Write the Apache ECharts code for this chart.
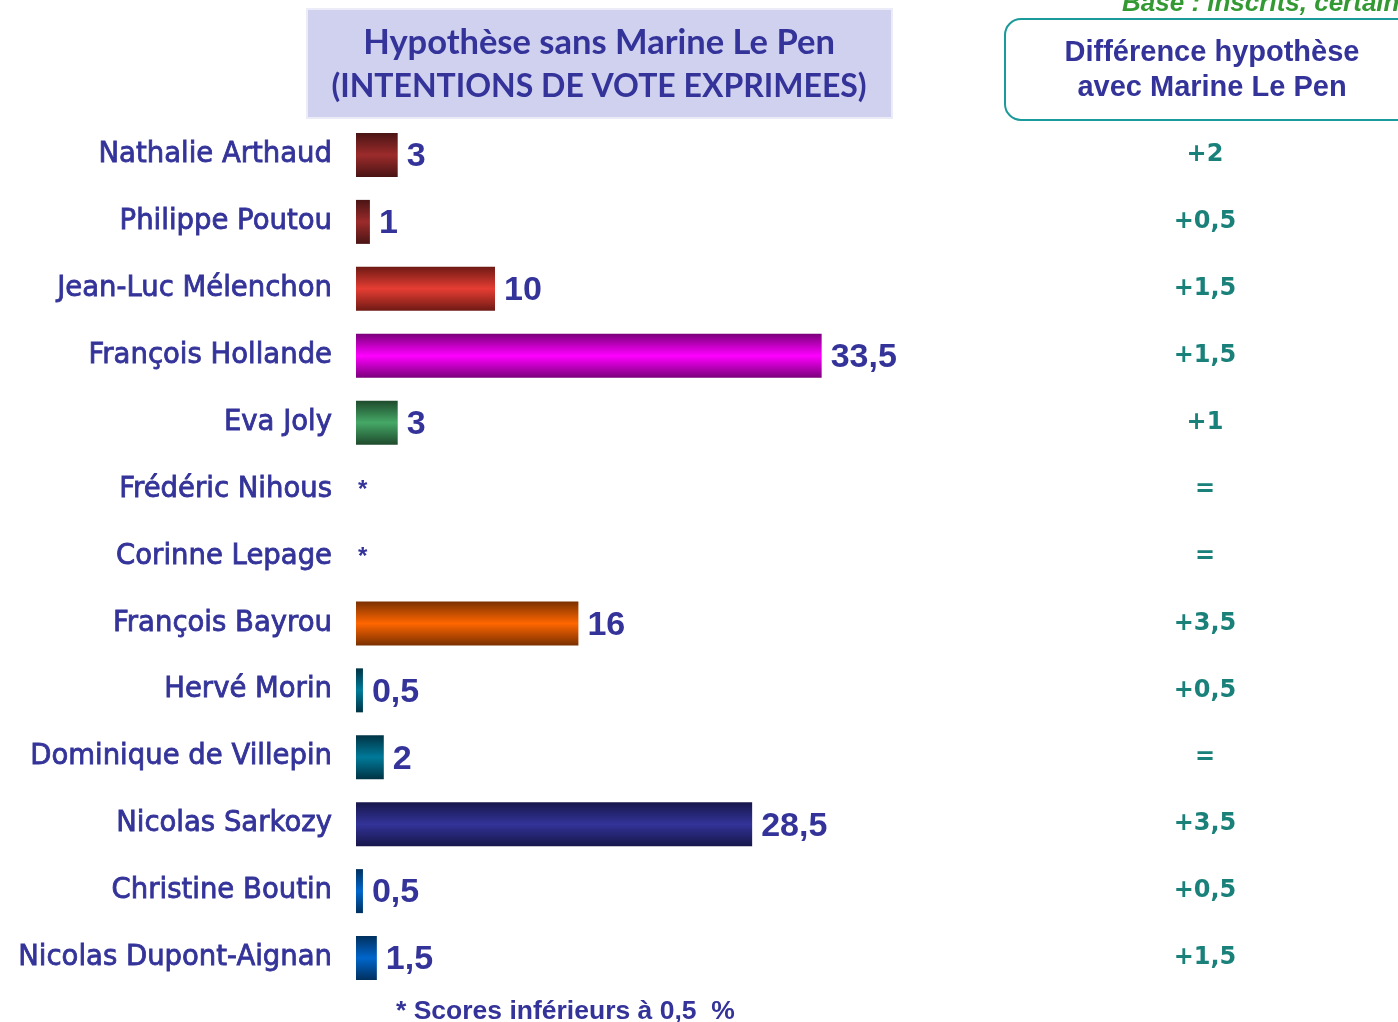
<!DOCTYPE html>
<html lang="fr">
<head>
<meta charset="UTF-8">
<title>Hypothèse sans Marine Le Pen</title>
<script src="https://cdn.jsdelivr.net/npm/echarts@6/dist/echarts.min.js"></script>
<style>
  html, body { margin: 0; padding: 0; background: #fff; }
  #main { width: 1398px; height: 1022px; }
</style>
</head>
<body>
<div id="main"></div>
<script type="text/javascript">
// candidats, de haut en bas
var candidats = ['Nathalie Arthaud', 'Philippe Poutou', 'Jean-Luc Mélenchon', 'François Hollande',
    'Eva Joly', 'Frédéric Nihous', 'Corinne Lepage', 'François Bayrou', 'Hervé Morin',
    'Dominique de Villepin', 'Nicolas Sarkozy', 'Christine Boutin', 'Nicolas Dupont-Aignan'];
// intentions de vote exprimées (0 = score inférieur à 0,5)
var scores = [3, 1, 10, 33.5, 3, 0, 0, 16, 0.5, 2, 28.5, 0.5, 1.5];
var etiquettes = ['3', '1', '10', '33,5', '3', '*', '*', '16', '0,5', '2', '28,5', '0,5', '1,5'];
// différence avec l'hypothèse Marine Le Pen
var differences = ['+2', '+0,5', '+1,5', '+1,5', '+1', '=', '=', '+3,5', '+0,5', '=', '+3,5', '+0,5', '+1,5'];

// couleurs des barres [milieu, bord]
var couleurs = [
    ['#9c2b2b', '#4a1414'], ['#9c2b2b', '#4a1414'], ['#e63d33', '#6e1a14'], ['#ff00ff', '#7a007a'],
    ['#45a866', '#1e4a2c'], ['#999999', '#555555'], ['#999999', '#555555'], ['#ff6600', '#7a3000'],
    ['#007a99', '#003344'], ['#007a99', '#003344'], ['#333399', '#16164a'], ['#0066cc', '#00305e'],
    ['#0066cc', '#00305e']
];

var bleu = '#333399';
var sarcelle = '#1a807a';

function degrade(c) {
    return new echarts.graphic.LinearGradient(0, 0, 0, 1, [
        {offset: 0, color: c[1]},
        {offset: 0.5, color: c[0]},
        {offset: 1, color: c[1]}
    ]);
}

var donnees = scores.map(function (v, i) {
    var item = {value: v, itemStyle: {color: degrade(couleurs[i])}};
    if (etiquettes[i] === '*') {
        item.label = {fontSize: 24, distance: 2, offset: [0, 1]};
    }
    return item;
});

var myChart = echarts.init(document.getElementById('main'));
var option = {
    backgroundColor: '#fff',
    animation: false,
    grid: {left: 356, right: 486, top: 121.5, bottom: 30.5, containLabel: false},
    xAxis: {
        type: 'value', min: 0, max: 40,
        show: false
    },
    yAxis: [{
        type: 'category',
        data: candidats,
        inverse: true,
        axisLine: {show: false},
        axisTick: {show: false},
        axisLabel: {
            margin: 24,
            color: bleu,
            fontFamily: 'DejaVu Sans',
            fontSize: 27.5,
            textBorderColor: bleu,
            textBorderWidth: 0.8
        }
    }, {
        type: 'category',
        data: candidats,
        inverse: true,
        position: 'right',
        axisLine: {show: false},
        axisTick: {show: false},
        axisLabel: {
            margin: 293,
            align: 'center',
            color: sarcelle,
            fontFamily: 'DejaVu Sans',
            fontSize: 24,
            fontWeight: 'bold',
            padding: [3, 0, 0, 0],
            formatter: function (val, idx) { return differences[idx]; }
        }
    }],
    series: [{
        type: 'bar',
        data: donnees,
        barWidth: 44,
        label: {
            show: true,
            position: 'right',
            distance: 9,
            offset: [0, 2],
            color: bleu,
            fontFamily: 'Liberation Sans',
            fontWeight: 'bold',
            fontSize: 34,
            formatter: function (p) { return etiquettes[p.dataIndex]; }
        }
    }],
    graphic: [
        {type: 'rect', shape: {x: 307, y: 9, width: 585, height: 109},
            style: {fill: '#d0d0ef', stroke: '#ececf8', lineWidth: 2}},
        {type: 'text', x: 599, y: 43,
            style: {text: 'Hypothèse sans Marine Le Pen', fill: bleu, align: 'center', verticalAlign: 'middle',
                font: 'bold 34.5px Lato'}},
        {type: 'text', x: 599, y: 87,
            style: {text: '(INTENTIONS DE VOTE EXPRIMEES)', fill: bleu, align: 'center', verticalAlign: 'middle',
                font: 'bold 32px Lato'}},
        {type: 'text', x: 1122, y: 17,
            style: {text: "Base : inscrits, certains d'aller voter", fill: '#339933', align: 'left', verticalAlign: 'bottom',
                font: 'italic bold 26px "Liberation Sans"'}},
        {type: 'rect', shape: {x: 1005, y: 19, width: 430, height: 101, r: 16},
            style: {fill: 'none', stroke: '#1a9a9a', lineWidth: 2}},
        {type: 'text', x: 1212, y: 53,
            style: {text: 'Différence hypothèse', fill: bleu, align: 'center', verticalAlign: 'middle',
                font: 'bold 29px "Liberation Sans"'}},
        {type: 'text', x: 1212, y: 88,
            style: {text: 'avec Marine Le Pen', fill: bleu, align: 'center', verticalAlign: 'middle',
                font: 'bold 29px "Liberation Sans"'}},
        {type: 'text', x: 396, y: 1012,
            style: {text: '* Scores inférieurs à 0,5  %', fill: bleu, align: 'left', verticalAlign: 'middle',
                font: 'bold 26.5px "Liberation Sans"'}}
    ]
};
myChart.setOption(option);
</script>
</body>
</html>
